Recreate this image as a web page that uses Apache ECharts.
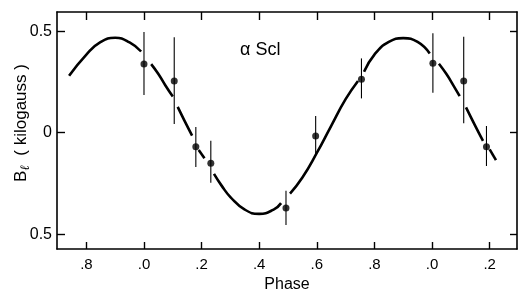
<!DOCTYPE html>
<html><head><meta charset="utf-8">
<script src="https://cdn.jsdelivr.net/npm/echarts@6/dist/echarts.min.js"></script>
<style>html,body{margin:0;padding:0;background:#fff}#c{width:518px;height:289px}</style>
</head><body><div id="c"></div>
<script>
// Observed points (phase, B in kilogauss) with error bar limits
const pointPhase = [0.0, 0.105, 0.18, 0.232, 0.493, 0.596, 0.755, 1.003, 1.11, 1.189];
const pointB     = [0.338, 0.255, -0.069, -0.151, -0.371, -0.016, 0.263, 0.342, 0.255, -0.069];
const errLow     = [0.186, 0.043, -0.169, -0.246, -0.455, -0.110, 0.169, 0.197, 0.046, -0.164];
const errHigh    = [0.496, 0.470, 0.028, -0.040, -0.286, 0.082, 0.366, 0.490, 0.473, 0.033];

// Fitted curve, drawn as broken segments
const curveA = [[-0.26,0.28],[-0.2,0.385],[-0.15,0.447],[-0.1,0.468],[-0.05,0.445],[-0.01,0.40]];
const curveB = [[0.025,0.338],[0.05,0.289],[0.075,0.231],[0.10,0.178]];
const curveC = [[0.117,0.127],[0.14,0.061],[0.167,-0.014]];
const curveD = [[0.19,-0.085],[0.21,-0.126]];
const curveE = [[0.243,-0.203],[0.27,-0.262],[0.3,-0.317],[0.35,-0.379],[0.4,-0.40],[0.45,-0.379],[0.476,-0.347]];
const curveF = [[0.507,-0.30],[0.55,-0.221],[0.6,-0.100],[0.65,0.034],[0.7,0.165],[0.743,0.255]];
const curveG = [[0.764,0.30],[0.8,0.385],[0.85,0.447],[0.9,0.466],[0.95,0.447],[0.992,0.39]];
const curveH = [[1.024,0.34],[1.05,0.289],[1.075,0.231],[1.096,0.18]];
const curveI = [[1.118,0.125],[1.15,0.034],[1.177,-0.04]];
const curveJ = [[1.2,-0.082],[1.222,-0.135]];
const curveSegments = [curveA, curveB, curveC, curveD, curveE, curveF, curveG, curveH, curveI, curveJ];

const xTickValues = [-0.2, 0, 0.2, 0.4, 0.6, 0.8, 1.0, 1.2];
const xTickLabels = ['.8', '.0', '.2', '.4', '.6', '.8', '.0', '.2'];
const yTickValues = [-0.5, 0, 0.5];
const yTickLabels = ['0.5', '0', '0.5'];

const FONT = 'Liberation Sans, Arial, Helvetica, sans-serif';
const chart = echarts.init(document.getElementById('c'));
const axisLine = {show: true, onZero: false, lineStyle: {color: '#000', width: 1.6}};

const series = [];
curveSegments.forEach(seg => series.push({
  type: 'line', data: seg, smooth: true, showSymbol: false, symbol: 'none',
  lineStyle: {color: '#000', width: 2.6}, z: 2, silent: true
}));
series.push({
  type: 'custom',
  data: pointPhase.map((p, i) => [p, errLow[i], errHigh[i]]),
  renderItem: (params, api) => {
    const a = api.coord([api.value(0), api.value(1)]);
    const b = api.coord([api.value(0), api.value(2)]);
    return {type: 'line', shape: {x1: a[0], y1: a[1], x2: b[0], y2: b[1]},
            style: {stroke: '#000', lineWidth: 1.1}};
  }, z: 3, silent: true
});
series.push({
  type: 'scatter', data: pointPhase.map((p, i) => [p, pointB[i]]),
  symbol: 'circle', symbolSize: 7, itemStyle: {color: '#000'}, z: 4, silent: true
});

chart.setOption({
  animation: false,
  grid: {left: 57, right: 1, top: 12, bottom: 40, outerBoundsMode: 'none', show: false},
  xAxis: [{
    type: 'value', min: -0.302, max: 1.295, position: 'bottom',
    axisLine, splitLine: {show: false},
    axisTick: {show: true, inside: true, length: 7, customValues: xTickValues, lineStyle: {color: '#000', width: 1.4}},
    axisLabel: {customValues: xTickValues, margin: 8, color: '#000', fontSize: 15, fontFamily: FONT,
      formatter: v => xTickLabels[xTickValues.findIndex(t => Math.abs(t - v) < 1e-6)] || ''},
    name: 'Phase', nameLocation: 'middle', nameGap: 26,
    nameTextStyle: {color: '#000', fontSize: 16, fontFamily: FONT}
  }, {
    type: 'value', min: -0.302, max: 1.295, position: 'top',
    axisLine, splitLine: {show: false},
    axisTick: {show: true, inside: true, length: 8, customValues: xTickValues, lineStyle: {color: '#000', width: 1.4}},
    axisLabel: {show: false}
  }],
  yAxis: [{
    type: 'value', min: -0.573, max: 0.5946, position: 'left',
    axisLine, splitLine: {show: false},
    axisTick: {show: true, inside: true, length: 8, customValues: yTickValues, lineStyle: {color: '#000', width: 1.4}},
    axisLabel: {customValues: yTickValues, margin: 5, color: '#000', fontSize: 16, fontFamily: FONT,
      formatter: v => yTickLabels[yTickValues.findIndex(t => Math.abs(t - v) < 1e-6)] || ''}
  }, {
    type: 'value', min: -0.573, max: 0.5946, position: 'right',
    axisLine, splitLine: {show: false},
    axisTick: {show: true, inside: true, length: 7, customValues: yTickValues, lineStyle: {color: '#000', width: 1.4}},
    axisLabel: {show: false}
  }],
  graphic: [{
    type: 'text', left: 240, top: 41,
    style: {text: 'α Scl', fontSize: 18, fontFamily: FONT, fill: '#000'}
  }, {
    type: 'text', x: 21, y: 123, rotation: Math.PI / 2,
    style: {
      text: '{m|B}{sub|ℓ}{m|  ( kilogauss )}', align: 'center', verticalAlign: 'middle',
      rich: {
        m: {fontSize: 17, fontFamily: FONT, fill: '#000'},
        sub: {fontSize: 13, fontFamily: 'DejaVu Serif', fontStyle: 'italic', fill: '#000', padding: [10, 0, 0, 0]}
      }
    }
  }],
  series
});
</script></body></html>
